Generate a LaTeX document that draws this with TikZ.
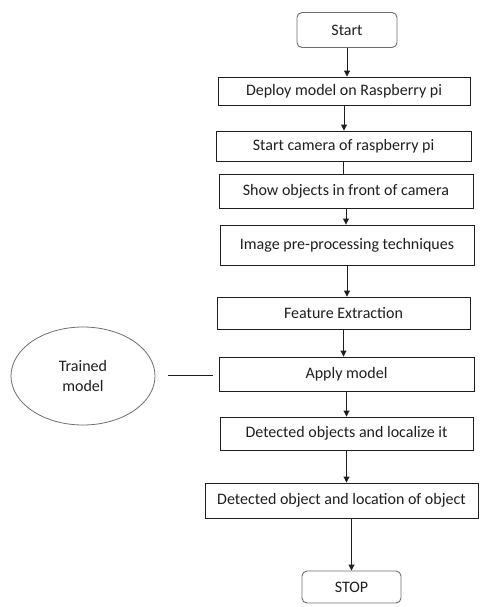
\documentclass[tikz,border=0pt]{standalone}
\usepackage{fontspec}
\setmainfont{Carlito}
\usetikzlibrary{arrows.meta,shapes.geometric}
\definecolor{ink}{HTML}{1E1E1E}
\definecolor{rim}{HTML}{6E6E6E}
\tikzset{
  box/.style={draw=ink, line width=0.9pt, rectangle, inner sep=0pt, font=\fontsize{16}{19}\selectfont, text=ink},
  term/.style={draw=rim, line width=0.9pt, rectangle, rounded corners=5pt, inner sep=0pt, font=\fontsize{16}{19}\selectfont, text=ink},
  oval/.style={draw=rim, line width=0.8pt, ellipse, inner sep=0pt, font=\fontsize{16}{20}\selectfont, text=ink, align=center},
  arr/.style={draw=ink, line width=0.9pt, -{Triangle[width=6pt,length=6pt]}},
  link/.style={draw=ink, line width=0.9pt}
}
\begin{document}
\begin{tikzpicture}[x=1pt,y=-1pt]
\useasboundingbox (0,0) rectangle (480,607);
\node[term, minimum width=100pt, minimum height=35pt] (start) at (347,30) {Start};
\node[box, minimum width=252pt, minimum height=28pt] (deploy) at (344,91) {Deploy model on Raspberry pi};
\node[box, minimum width=255pt, minimum height=30pt] (camera) at (343.5,146) {Start camera of raspberry pi};
\node[box, minimum width=254pt, minimum height=34pt] (show) at (346,191) {Show objects in front of camera};
\node[box, minimum width=254pt, minimum height=40pt] (image) at (347,245) {Image pre-processing techniques};
\node[box, minimum width=253pt, minimum height=32pt] (feature) at (343.5,313) {Feature Extraction};
\node[box, minimum width=255pt, minimum height=34pt] (apply) at (346.5,374) {Apply model};
\node[box, minimum width=253pt, minimum height=33pt] (detobj) at (346.5,433.5) {Detected objects and localize it};
\node[box, minimum width=273pt, minimum height=35pt] (detloc) at (341.5,500.5) {Detected object and location of object};
\node[term, minimum width=99pt, minimum height=32pt] (stop) at (351.5,587) {STOP};
\node[oval, minimum width=144pt, minimum height=98pt] (trained) at (83,376) {Trained\\model};
\coordinate (la) at (168,375);
\coordinate (lb) at (213,375);

\draw[arr] (start.south) -- (start.south |- deploy.north);
\draw[arr] (deploy.south) -- (deploy.south |- camera.north);
\draw[link] (camera.south) -- (camera.south |- show.north);
\draw[arr] (show.south) -- (show.south |- image.north);
\draw[arr] (image.south) -- (image.south |- feature.north);
\draw[arr] (feature.south) -- (feature.south |- apply.north);
\draw[arr] (apply.south) -- (apply.south |- detobj.north);
\draw[arr] (detobj.south) -- (detobj.south |- detloc.north);
\draw[arr] ([xshift=10pt]detloc.south) -- ([xshift=10pt]detloc.south |- stop.north);
\draw[link] (la) -- (lb);
\end{tikzpicture}
\end{document}
